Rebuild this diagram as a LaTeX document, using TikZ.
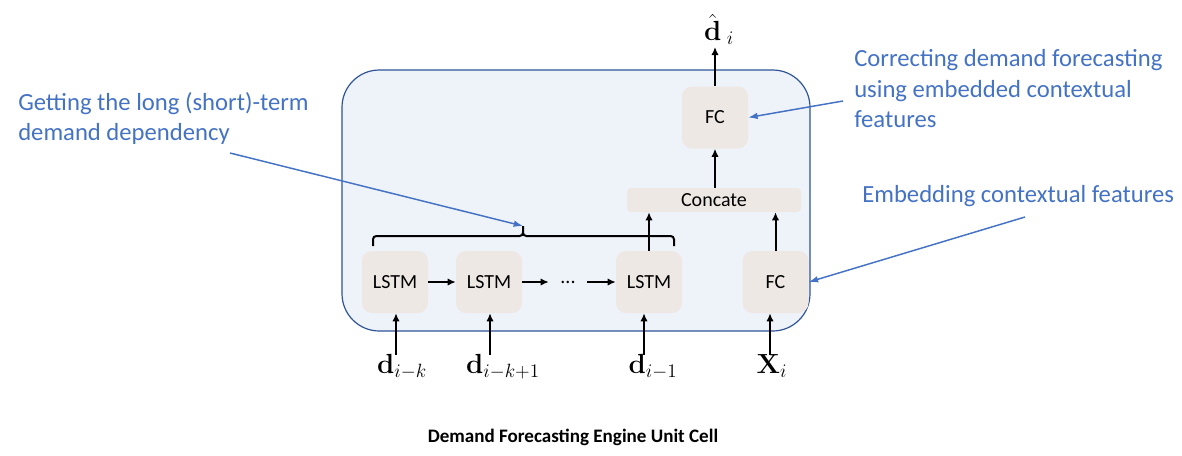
\documentclass[tikz,border=0pt]{standalone}
\usepackage{amsmath}
\usepackage{amssymb}
\usepackage[no-math]{fontspec}
\setmainfont{Carlito}
\usepackage{tikz}
\usetikzlibrary{calc}
\usetikzlibrary{positioning}
\usetikzlibrary{arrows.meta}

\definecolor{cellfill}{HTML}{EEF2F9}
\definecolor{cellline}{HTML}{2F5597}
\definecolor{boxfill}{HTML}{EEE8E5}
\definecolor{notecol}{HTML}{4472C4}

\tikzset{
  unitbox/.style={fill=boxfill, rounded corners=7.5pt, minimum width=49.5pt,
    minimum height=46.5pt, inner sep=0pt, font=\fontsize{15}{17}\selectfont},
  flow/.style={line width=1.5pt, -{Latex[length=6pt,width=5.5pt]}},
  note/.style={notecol, align=left, anchor=north west, inner sep=0pt,
    font=\fontsize{18.5}{23}\selectfont},
  notearrow/.style={notecol, line width=1.1pt, -{Latex[length=7pt,width=5pt]}},
  inlabel/.style={anchor=north, inner sep=0pt, font=\fontsize{21}{24}\selectfont},
}

\begin{document}
\begin{tikzpicture}[x=0.75pt,y=-0.75pt]
            \useasboundingbox (0,0) rectangle (1182,455);

            % Draw the unit cell
            \draw[fill=cellfill, draw=cellline, line width=0.9pt, rounded corners=28pt]
                (342,70) rectangle (810,331);

            % Draw the boxes
            \node[unitbox] (lstmA) at (395,282) {LSTM};
            \node[unitbox] (lstmB) at (489,282) {LSTM};
            \node[inner sep=0pt, minimum width=28.5pt, font=\fontsize{15}{17}\selectfont] (dots) at (568,282) {...};
            \node[unitbox] (lstmC) at (649,282) {LSTM};
            \node[unitbox] (fcin) at (775.5,282) {FC};
            \node[unitbox, minimum width=130.5pt, minimum height=18pt, rounded corners=3pt] (concat) at (714,200) {Concate};
            \node[unitbox] (fcout) at (715,117.5) {FC};

            % Draw the chain
            \draw[flow] (lstmA) -- (lstmB);
            \draw[flow] (lstmB) -- (dots);
            \draw[flow] (dots) -- (lstmC);
            \draw[flow] (lstmC.north) -- (lstmC.north |- concat.south);
            \draw[flow] (fcin.north) -- (fcin.north |- concat.south);
            \draw[flow] (fcout.north |- concat.north) -- (fcout.south);

            % Draw the output
            \coordinate (outtip) at (715,47);
            \draw[flow] (fcout.north) -- (outtip);
            \node[anchor=south, inner sep=0pt, font=\fontsize{21}{24}\selectfont] (dhat) at (719,45) {$\hat{\mathbf{d}}_{\;i}$};

            % Draw the inputs
            \coordinate (inA) at (396,355);
            \coordinate (inB) at (490,355);
            \coordinate (inC) at (644,355);
            \coordinate (inX) at (770,355);
            \draw[flow] (inA) -- (inA |- lstmA.south);
            \draw[flow] (inB) -- (inB |- lstmB.south);
            \draw[flow] (inC) -- (inC |- lstmC.south);
            \draw[flow] (inX) -- (inX |- fcin.south);
            \node[inlabel] (labA) at (402,354) {$\mathbf{d}_{i-k}$};
            \node[inlabel] (labB) at (503,354) {$\mathbf{d}_{i-k+1}$};
            \node[inlabel] (labC) at (653,354) {$\mathbf{d}_{i-1}$};
            \node[inlabel] (labX) at (772,354) {$\mathbf{X}_{i}$};

            % Draw the brace over the LSTMs
            \coordinate (braceL) at (373,246);
            \coordinate (braceR) at (674,246);
            \coordinate (bracetip) at (523,226);
            \draw[line width=1.5pt, rounded corners=2.5pt]
                (braceL) -- (braceL |- 0,236) -- (bracetip |- 0,236) -- (bracetip)
                (bracetip) -- (bracetip |- 0,236) -- (braceR |- 0,236) -- (braceR);

            % Draw the notes
            \node[note] (notelstm) at (18,92) {Getting the long (short)-term\\demand dependency};
            \node[note] (notefcout) at (854,49) {Correcting demand forecasting\\using embedded contextual\\features};
            \node[note] (notefcin) at (862,185) {Embedding contextual features};
            \coordinate (fromlstm) at (230,153);
            \coordinate (fromfcout) at (843,101);
            \coordinate (fromfcin) at (1025,217);
            \draw[notearrow] (fromlstm) -- (bracetip);
            \draw[notearrow] (fromfcout) -- (fcout.east);
            \draw[notearrow] (fromfcin) -- (fcin.east);

            % Draw the title
            \node[font=\bfseries\fontsize{14.3}{16}\selectfont] (title) at (573,437) {Demand Forecasting Engine Unit Cell};
        \end{tikzpicture}
\end{document}
